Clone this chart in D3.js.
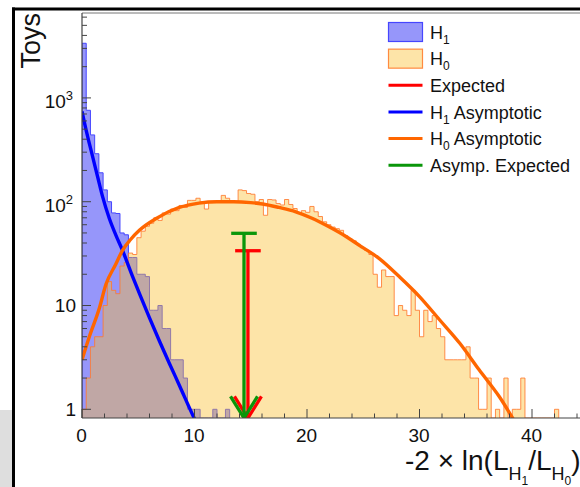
<!DOCTYPE html>
<html><head><meta charset="utf-8">
<script src="https://cdn.jsdelivr.net/npm/d3@7"></script>
<style>body{margin:0;background:#fff} svg{display:block;font-family:"Liberation Sans",Arial,Helvetica,sans-serif}</style>
</head><body><svg id="c" width="580" height="487"></svg>
<script>
// ---------------- data ----------------
const binWidth = 0.375;           // histogram bin width in x units
const xDomain = [0, 45];
const yDomain = [0.8245, 6577];
const h0Counts = [1,2,4,5,5,10,17,14,13,24,26,32,31,45,52,58,62,70,66,78,76,85,82,92,88,
  103,103,108,100,85,98,101,99,115,108,100,99,130,128,120,118,100,105,74,105,104,96,93,105,94,
  86,77,82,79,90,80,72,64,60,57,55,53,47,44,42,39,36,34,31,20,15,22,19,19,8,10,9,8,14,9,
  5,9,7,8,6,5,3,3,3,3,3,4,2,2,1,1,2,0,1,0,2,0,1,1,2,0,0,0,0,0,0,0,1];
const h1Counts = [3360,760,440,290,190,130,100,78,77,50,48,29,29,20,20,19,9,9,10,6,6,3,3,3,2,1,1,1,0,0,0,1,0,0,1];
const h1AsymX = [0,0.3,0.65,1.0,1.4,1.83,2.43,3.0,3.6,4.5,5.2,6.0,6.9,7.8,8.7,9.7,10.3];
const h1AsymY = [740,525,365,257,172,112,69,48,34,19,12.3,7.6,4.5,2.72,1.66,0.95,0.69];
const h0AsymX = [0,0.65,1.54,2.13,3.0,3.6,4.3,5.1,6.6,8.65,10.4,12.0,13.5,15.0,16.05,17.5,19.0,20.5,22.0,23.5,24.65,26.4,28.2,30.0,31.8,33.6,35.3,37.1,38.6];
const h0AsymY = [3.0,5.0,9.4,16,25,34,43,53,69,88,97,100,100,98,95,88,80,69,57,46,38,28.5,19,12.2,7.25,4.3,2.4,1.32,0.72];
const expected = {x: 14.75, y: 33.7};
const asympExpected = {x: 14.4, y: 49.6};
const xTicks = [0,10,20,30,40];
const yTickLabels = [{v:1, base:"1", sup:""},{v:10, base:"10", sup:""},{v:100, base:"10", sup:"2"},{v:1000, base:"10", sup:"3"}];
const legendEntries = [
  {type:"box", fill:"#9696fa", stroke:"#4646ff", base:"H", sub:"1", rest:""},
  {type:"box", fill:"#fde4a8", stroke:"#ff8a40", base:"H", sub:"0", rest:""},
  {type:"line", color:"#ff0000", base:"Expected", sub:"", rest:""},
  {type:"line", color:"#0000ff", base:"H", sub:"1", rest:" Asymptotic"},
  {type:"line", color:"#ff6600", base:"H", sub:"0", rest:" Asymptotic"},
  {type:"line", color:"#0a960a", base:"Asymp. Expected", sub:"", rest:""}
];

// ---------------- drawing ----------------
const svg = d3.select("#c");
const x = d3.scaleLinear().domain(xDomain).range([82, 588.25]);
const y = d3.scaleLog().domain(yDomain).range([418, 13]);
const yMin = yDomain[0];

// page decorations (cropped canvas border)
svg.append("rect").attr("x",0).attr("y",410).attr("width",12).attr("height",77).attr("fill","#dedede");
svg.append("rect").attr("x",12).attr("y",7.5).attr("width",568).attr("height",3).attr("fill","#000");
svg.append("rect").attr("x",12).attr("y",7.5).attr("width",3).attr("height",480).attr("fill","#000");

svg.append("clipPath").attr("id","plot").append("rect")
  .attr("x",82).attr("y",13).attr("width",506).attr("height",405);
const g = svg.append("g").attr("clip-path","url(#plot)");

function stepPath(counts, close){
  let d = `M${x(0)},${y(yMin)}`;
  counts.forEach((c,i)=>{
    const v = Math.max(c, yMin);
    d += `V${y(v)}H${x((i+1)*binWidth)}`;
  });
  d += `V${y(yMin)}`;
  if (close) d += "Z";
  return d;
}

// H1 histogram
g.append("path").attr("d", stepPath(h1Counts,true)).attr("fill","#9696fa");
g.append("path").attr("d", stepPath(h1Counts,false)).attr("fill","none").attr("stroke","#4646ff").attr("stroke-width",1);
// H0 histogram (semi-transparent on top)
g.append("path").attr("d", stepPath(h0Counts,true)).attr("fill","rgb(250,190,48)").attr("fill-opacity",0.42);
g.append("path").attr("d", stepPath(h0Counts,false)).attr("fill","none").attr("stroke","#ff7a30").attr("stroke-opacity",0.85).attr("stroke-width",1);

const line = d3.line().x(d=>x(d[0])).y(d=>y(d[1])).curve(d3.curveMonotoneX);

// Expected arrows
function arrow(p, color){
  const cx = x(p.x), top = y(p.y), tip = y(yMin);
  const a = g.append("g").attr("stroke",color).attr("stroke-width",3.3).attr("fill","none").attr("stroke-linecap","butt");
  a.append("line").attr("x1",cx).attr("x2",cx).attr("y1",top).attr("y2",tip-1);
  a.append("line").attr("x1",cx-12.8).attr("x2",cx+12.8).attr("y1",top).attr("y2",top);
  a.append("path").attr("d",`M${cx-13.5},${tip-21.6}L${cx},${tip}L${cx+13.5},${tip-21.6}`);
}
arrow(expected, "#ff0000");

g.append("path").datum(d3.zip(h1AsymX,h1AsymY)).attr("d",line)
  .attr("fill","none").attr("stroke","#0000ff").attr("stroke-width",3.4);
g.append("path").datum(d3.zip(h0AsymX,h0AsymY)).attr("d",line)
  .attr("fill","none").attr("stroke","#ff6600").attr("stroke-width",3.4);

arrow(asympExpected, "#0a960a");

// frame / axes
const axC = "#444";
svg.append("line").attr("x1",82).attr("x2",580).attr("y1",13).attr("y2",13).attr("stroke","#777").attr("stroke-width",1);
svg.append("line").attr("x1",82).attr("x2",82).attr("y1",13).attr("y2",418).attr("stroke",axC).attr("stroke-width",1.2);
svg.append("line").attr("x1",82).attr("x2",580).attr("y1",418).attr("y2",418).attr("stroke",axC).attr("stroke-width",1.2);

// x ticks
const xt = svg.append("g").attr("stroke",axC).attr("stroke-width",1);
d3.range(0, 46, 2).forEach(v=>{
  const major = v % 10 === 0;
  xt.append("line").attr("x1",x(v)).attr("x2",x(v)).attr("y1",418).attr("y2",418-(major?9:4.5));
});
svg.append("g").selectAll("text").data(xTicks).join("text")
  .attr("x",d=>x(d)-0.5).attr("y",441.5).attr("text-anchor","middle")
  .attr("font-size",19).attr("fill","#111").text(d=>d);

// y ticks
const yt = svg.append("g").attr("stroke",axC).attr("stroke-width",1);
[1,10,100,1000].forEach(dec=>{
  for (let m=1; m<=9; m++){
    const v = dec*m;
    if (v > yDomain[1]) break;
    yt.append("line").attr("x1",82).attr("x2",82+(m===1?9:5)).attr("y1",y(v)).attr("y2",y(v));
  }
});
yTickLabels.forEach(t=>{
  const ty = y(t.v);
  const txt = svg.append("text").attr("font-size",19).attr("fill","#111").attr("text-anchor","end");
  if (!t.sup){
    txt.attr("x",76).attr("y",ty+6.7).text(t.base);
  } else {
    txt.attr("x",73).attr("y",ty+10.3);
    txt.append("tspan").text(t.base);
    txt.append("tspan").attr("font-size",13).attr("dy",-8).text(t.sup);
  }
});

// axis titles
svg.append("text").attr("transform","translate(39.5,13) rotate(-90)")
  .attr("text-anchor","end").attr("font-size",27).attr("fill","#111").text("Toys");

const xt2 = svg.append("text").attr("x",405).attr("y",470).attr("font-size",28).attr("fill","#111");
xt2.append("tspan").text("-2 \u00d7 ln(L");
xt2.append("tspan").attr("font-size",18).attr("dy",10).text("H");
xt2.append("tspan").attr("font-size",12).attr("dy",5).text("1");
xt2.append("tspan").attr("dy",-15).text("/L");
xt2.append("tspan").attr("font-size",18).attr("dy",10).text("H");
xt2.append("tspan").attr("font-size",12).attr("dy",5).text("0");
xt2.append("tspan").attr("dy",-15).text(")");

// legend
const lg = svg.append("g");
legendEntries.forEach((e,i)=>{
  const cy = 32 + i*26.65;
  if (e.type==="box"){
    lg.append("rect").attr("x",388.5).attr("y",cy-9.5).attr("width",34).attr("height",19)
      .attr("fill",e.fill).attr("stroke",e.stroke).attr("stroke-width",1.2);
  } else {
    lg.append("line").attr("x1",388.5).attr("x2",422.5).attr("y1",cy).attr("y2",cy)
      .attr("stroke",e.color).attr("stroke-width",3);
  }
  const t = lg.append("text").attr("x",430).attr("y",cy+6.6).attr("font-size",18).attr("fill","#111");
  t.append("tspan").text(e.base);
  if (e.sub){
    t.append("tspan").attr("font-size",12).attr("dy",5).text(e.sub);
    if (e.rest) t.append("tspan").attr("dy",-5).text(e.rest);
  } else if (e.rest) t.append("tspan").text(e.rest);
});
</script></body></html>
